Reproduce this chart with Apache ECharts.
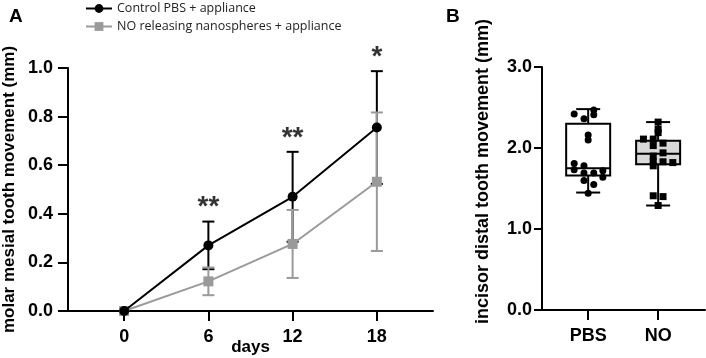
<!DOCTYPE html>
<html>
<head>
<meta charset="utf-8">
<script src="https://cdn.jsdelivr.net/npm/echarts@6/dist/echarts.min.js"></script>
<style>
html, body { margin: 0; padding: 0; background: #fff; }
#chart { width: 706px; height: 358px; }
</style>
</head>
<body>
<div id="chart"></div>
<script>
// panel A: molar movement over time
var days = [0, 6, 12, 18];
var controlMean = [0, 0.27, 0.47, 0.755];
var controlSd = [0, 0.098, 0.185, 0.232];
var noMean = [0, 0.122, 0.276, 0.532];
var noSd = [0, 0.057, 0.14, 0.285];
var stars = ['', '**', '**', '*'];

// panel B: incisor movement, box plots (groups sit at x = 1 and 2)
var groups = ['PBS', 'NO'];
var groupPos = [1, 2];
var pbsBox = [1.45, 1.66, 1.75, 2.30, 2.48];
var noBox = [1.29, 1.80, 1.93, 2.09, 2.32];
var pbsPoints = [2.47, 2.42, 2.36, 2.41, 2.16, 2.10, 1.81, 1.78, 1.73, 1.69, 1.69, 1.72, 1.64, 1.60, 1.55, 1.44];
var pbsJitter = [0.08, -0.2, -0.06, 0.08, 0, 0, -0.2, -0.06, -0.2, -0.06, 0.08, 0.21, 0.21, -0.06, 0.08, 0];
var noPoints = [2.32, 2.23, 2.19, 2.11, 2.11, 2.06, 2.03, 1.94, 1.90, 1.83, 1.83, 1.82, 1.78, 1.41, 1.40, 1.29];
var noJitter = [0, 0, 0, -0.21, -0.07, 0.07, -0.07, 0.07, -0.07, -0.07, 0.07, 0.21, -0.07, -0.07, 0.07, 0];

var GRAY = '#9a9a9a';
var FONT = '"Liberation Sans", Arial, sans-serif';

function errorBars(mean, sd) {
    return days.map(function (d, i) {
        return [d, mean[i] - sd[i], mean[i] + sd[i]];
    });
}

function renderError(color, capHalf) {
    return function (params, api) {
        var lo = api.coord([api.value(0), api.value(1)]);
        var hi = api.coord([api.value(0), api.value(2)]);
        if (Math.abs(lo[1] - hi[1]) < 1) return;
        var st = { stroke: color, lineWidth: 2 };
        return {
            type: 'group',
            children: [
                { type: 'line', shape: { x1: hi[0], y1: hi[1], x2: lo[0], y2: lo[1] }, style: st },
                { type: 'line', shape: { x1: hi[0] - capHalf, y1: hi[1], x2: hi[0] + capHalf, y2: hi[1] }, style: st },
                { type: 'line', shape: { x1: lo[0] - capHalf, y1: lo[1], x2: lo[0] + capHalf, y2: lo[1] }, style: st }
            ]
        };
    };
}

function renderBox(params, api) {
    var x = api.value(0);
    var pMin = api.coord([x, api.value(1)]);
    var pQ1 = api.coord([x, api.value(2)]);
    var pMed = api.coord([x, api.value(3)]);
    var pQ3 = api.coord([x, api.value(4)]);
    var pMax = api.coord([x, api.value(5)]);
    var half = 22, cap = 12;
    var cx = pMed[0];
    var st = { stroke: '#000', lineWidth: 2 };
    var fill = params.dataIndex === 0 ? '#ffffff' : '#d9d9d9';
    return {
        type: 'group',
        children: [
            { type: 'line', shape: { x1: cx, y1: pMax[1], x2: cx, y2: pQ3[1] }, style: st },
            { type: 'line', shape: { x1: cx, y1: pQ1[1], x2: cx, y2: pMin[1] }, style: st },
            { type: 'line', shape: { x1: cx - cap, y1: pMax[1], x2: cx + cap, y2: pMax[1] }, style: st },
            { type: 'line', shape: { x1: cx - cap, y1: pMin[1], x2: cx + cap, y2: pMin[1] }, style: st },
            { type: 'rect', shape: { x: cx - half, y: pQ3[1], width: half * 2, height: pQ1[1] - pQ3[1] },
              style: { fill: fill, stroke: '#000', lineWidth: 2 } },
            { type: 'line', shape: { x1: cx - half, y1: pMed[1], x2: cx + half, y2: pMed[1] }, style: st }
        ]
    };
}

function axisStyle(tickLen, labelMargin) {
    return {
        nameMoveOverlap: false,
        axisLine: { show: true, onZero: false, lineStyle: { color: '#000', width: 2 } },
        axisTick: { show: true, length: tickLen, lineStyle: { color: '#000', width: 2 } },
        splitLine: { show: false },
        axisLabel: { color: '#000', fontFamily: FONT, fontWeight: 'bold', fontSize: 18, margin: labelMargin }
    };
}
var nameStyle = { color: '#000', fontFamily: FONT, fontWeight: 'bold', fontSize: 17 };
var fixed1 = function (v) { return v.toFixed(1); };

var xA = axisStyle(10, 17);
xA.axisTick.customValues = days;
xA.axisLabel.customValues = days;
var xB = axisStyle(10, 17);
xB.axisTick.customValues = groupPos;
xB.axisLabel.customValues = groupPos;
xB.axisLabel.formatter = function (v) { return groups[Math.round(v) - 1]; };
var yA = axisStyle(10, 15);
yA.axisLabel.formatter = fixed1;
var yB = axisStyle(8, 10);
yB.axisLabel.formatter = fixed1;

var chart = echarts.init(document.getElementById('chart'));
var option = {
    animation: false,
    backgroundColor: '#fff',
    graphic: [
        { type: 'text', left: 9, top: 7, style: { text: 'A', font: 'bold 19px ' + FONT, fill: '#000' } },
        { type: 'text', left: 446, top: 7, style: { text: 'B', font: 'bold 19px ' + FONT, fill: '#000' } }
    ],
    legend: {
        orient: 'vertical',
        left: 80,
        top: -3,
        itemWidth: 26,
        itemHeight: 11,
        itemGap: 5,
        data: ['Control PBS + appliance', 'NO releasing nanospheres + appliance'],
        textStyle: { fontFamily: '"Open Sans", sans-serif', fontSize: 12.5, color: '#222' }
    },
    grid: [
        { left: 68, top: 68, width: 365, height: 243, containLabel: false, outerBoundsMode: 'none' },
        { left: 542, top: 67, width: 163, height: 243, containLabel: false, outerBoundsMode: 'none' }
    ],
    xAxis: [
        Object.assign(xA, {
            gridIndex: 0, type: 'value', min: -4, max: 22,
            name: 'days', nameLocation: 'middle', nameGap: 28,
            nameTextStyle: nameStyle
        }),
        Object.assign(xB, { gridIndex: 1, type: 'value', min: 0.34, max: 2.67 })
    ],
    yAxis: [
        // placeholder axis: keeps the drawn axis of panel A off the x = 0 line
        { gridIndex: 0, type: 'value', min: 0, max: 1, show: false },
        Object.assign(yA, {
            gridIndex: 0, type: 'value', position: 'left', min: 0, max: 1, interval: 0.2,
            name: 'molar mesial tooth movement (mm)', nameLocation: 'middle', nameGap: 50,
            nameTextStyle: nameStyle
        }),
        Object.assign(yB, {
            gridIndex: 1, type: 'value', position: 'left', min: 0, max: 3, interval: 1,
            name: 'incisor distal tooth movement (mm)', nameLocation: 'middle', nameGap: 50,
            nameTextStyle: Object.assign({}, nameStyle, { fontSize: 18, padding: [0, 0, 0, 34] })
        })
    ],
    series: [
        {
            type: 'custom', name: 'ctrlErr', xAxisIndex: 0, yAxisIndex: 1,
            renderItem: renderError('#000', 6), data: errorBars(controlMean, controlSd),
            encode: { x: 0, y: [1, 2] }, z: 2
        },
        {
            type: 'custom', name: 'noErr', xAxisIndex: 0, yAxisIndex: 1,
            renderItem: renderError(GRAY, 6), data: errorBars(noMean, noSd),
            encode: { x: 0, y: [1, 2] }, z: 3
        },
        {
            type: 'line', name: 'NO releasing nanospheres + appliance', xAxisIndex: 0, yAxisIndex: 1,
            data: days.map(function (d, i) { return [d, noMean[i]]; }),
            symbol: 'rect', symbolSize: 10, z: 4,
            lineStyle: { color: GRAY, width: 2 }, itemStyle: { color: GRAY }
        },
        {
            type: 'line', name: 'Control PBS + appliance', xAxisIndex: 0, yAxisIndex: 1,
            data: days.map(function (d, i) { return [d, controlMean[i]]; }),
            symbol: 'circle', symbolSize: 10, z: 5,
            lineStyle: { color: '#000', width: 2 }, itemStyle: { color: '#000' }
        },
        {
            type: 'scatter', name: 'stars', xAxisIndex: 0, yAxisIndex: 1,
            data: days.map(function (d, i) { return [d, controlMean[i] + controlSd[i]]; }),
            symbolSize: 0, silent: true,
            label: {
                show: true, position: 'top', distance: 0,
                formatter: function (p) { return stars[p.dataIndex]; },
                fontFamily: FONT, fontWeight: 'bold', fontSize: 28, color: '#000'
            }
        },
        {
            type: 'custom', name: 'box', xAxisIndex: 1, yAxisIndex: 2,
            renderItem: renderBox,
            data: [[groupPos[0]].concat(pbsBox), [groupPos[1]].concat(noBox)],
            encode: { x: 0, y: [1, 2, 3, 4, 5] }, z: 2
        },
        {
            type: 'scatter', name: 'pbsDots', xAxisIndex: 1, yAxisIndex: 2,
            data: pbsPoints.map(function (v, i) { return [groupPos[0] + pbsJitter[i], v]; }),
            symbol: 'circle', symbolSize: 7, itemStyle: { color: '#000', opacity: 1 }, z: 5
        },
        {
            type: 'scatter', name: 'noDots', xAxisIndex: 1, yAxisIndex: 2,
            data: noPoints.map(function (v, i) { return [groupPos[1] + noJitter[i], v]; }),
            symbol: 'rect', symbolSize: 7, itemStyle: { color: '#000', opacity: 1 }, z: 5
        }
    ]
};
chart.setOption(option);
</script>
</body>
</html>
